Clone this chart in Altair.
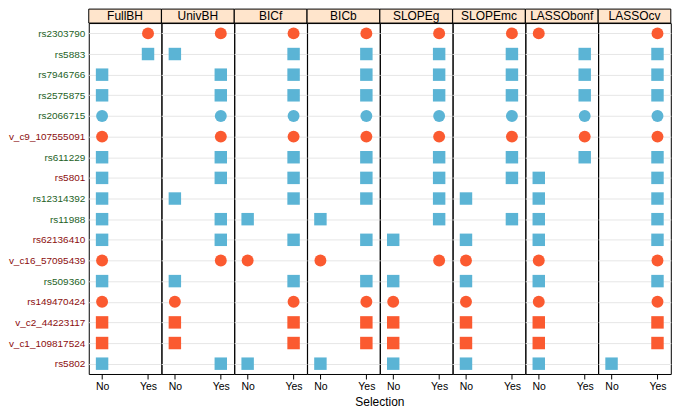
import altair as alt
import pandas as pd

methods = ["FullBH", "UnivBH", "BICf", "BICb", "SLOPEg", "SLOPEmc", "LASSObonf", "LASSOcv"]

snps = ["rs2303790", "rs5883", "rs7946766", "rs2575875", "rs2066715",
        "v_c9_107555091", "rs611229", "rs5801", "rs12314392", "rs11988",
        "rs62136410", "v_c16_57095439", "rs509360", "rs149470424",
        "v_c2_44223117", "v_c1_109817524", "rs5802"]

snp_shape = ["circle", "square", "square", "square", "circle",
             "circle", "square", "square", "square", "square",
             "square", "circle", "square", "circle",
             "square", "square", "square"]

snp_group = ["orange", "blue", "blue", "blue", "blue",
             "orange", "blue", "blue", "blue", "blue",
             "blue", "orange", "blue", "orange",
             "orange", "orange", "blue"]

red_labels = ["v_c9_107555091", "rs5801", "rs62136410", "v_c16_57095439",
              "rs149470424", "v_c2_44223117", "v_c1_109817524", "rs5802"]

Y, N = "Yes", "No"
selection = {
    "FullBH":    [Y, Y, N, N, N, N, N, N, N, N, N, N, N, N, N, N, N],
    "UnivBH":    [Y, N, Y, Y, Y, Y, Y, Y, N, Y, Y, Y, N, N, N, N, Y],
    "BICf":      [Y, Y, Y, Y, Y, Y, Y, Y, Y, N, Y, N, Y, Y, Y, Y, N],
    "BICb":      [Y, Y, Y, Y, Y, Y, Y, Y, Y, N, Y, N, Y, Y, Y, Y, N],
    "SLOPEg":    [Y, Y, Y, Y, Y, Y, Y, Y, Y, Y, N, Y, N, N, N, N, N],
    "SLOPEmc":   [Y, Y, Y, Y, Y, Y, Y, Y, N, Y, N, N, N, N, N, N, N],
    "LASSObonf": [N, Y, Y, Y, Y, Y, Y, N, N, N, N, N, N, N, N, N, N],
    "LASSOcv":   [Y, Y, Y, Y, Y, Y, Y, Y, Y, Y, Y, Y, Y, Y, Y, Y, N],
}

ORANGE = "#FB5A30"
BLUE = "#5BB4D5"
STRIP = "#FFE5CC"
GREEN_LAB = "#245F26"
RED_LAB = "#8B0E0E"
FONT = "Liberation Sans"
PANEL_W = 72.8
PANEL_H = 352

rows = []
for m in methods:
    for i, s in enumerate(snps):
        rows.append({"method": m, "snp": s, "selection": selection[m][i],
                     "shape": snp_shape[i], "grp": snp_group[i]})
df = pd.DataFrame(rows)

red_test = "indexof(" + str(red_labels).replace("'", '"') + ", datum.value) >= 0"

x_enc = alt.X("selection:N",
              scale=alt.Scale(type="point", domain=["No", "Yes"], padding=0.29),
              axis=alt.Axis(title=None, domain=False, ticks=True, tickSize=5,
                            tickColor="black", labelColor="black", labelFontSize=10.5,
                            labelPadding=3, labelAngle=0, grid=False))
y_enc = alt.Y("snp:N",
              scale=alt.Scale(type="point", domain=snps, padding=0.5),
              axis=alt.Axis(title=None, domain=False, ticks=False, labelPadding=4,
                            labelFontSize=10, grid=True, gridColor="#E6E6E6",
                            labelColor={"condition": {"test": red_test, "value": RED_LAB},
                                        "value": GREEN_LAB}))
c_enc = alt.Color("grp:N", scale=alt.Scale(domain=["orange", "blue"], range=[ORANGE, BLUE]),
                  legend=None)

base = alt.Chart()

circles = base.mark_point(filled=True, shape="circle", size=143, opacity=1).encode(
    x=x_enc, y=y_enc, color=c_enc
).transform_filter("datum.shape == 'circle'")

squares = base.mark_point(filled=True, shape="square", size=156, opacity=1).encode(
    x=x_enc, y=y_enc, color=c_enc
).transform_filter("datum.shape == 'square'")

strip = base.mark_rect(fill=STRIP, stroke="black", strokeWidth=1).encode(
    x=alt.value(0), x2=alt.value("width"), y=alt.value(-14), y2=alt.value(0)
).transform_filter("datum.snp == '" + snps[0] + "'")

strip_text = base.mark_text(fontSize=12, color="black", baseline="middle", align="center",
                            font=FONT).encode(
    x=alt.value(PANEL_W / 2), y=alt.value(-7), text="method:N"
).transform_filter("datum.snp == '" + snps[0] + "'")

layered = alt.layer(strip, strip_text, circles, squares).properties(
    width=PANEL_W, height=PANEL_H)

chart = layered.facet(
    data=df,
    column=alt.Column("method:N", sort=methods, title="Selection",
                      header=alt.Header(labels=False, labelPadding=0, titleOrient="bottom",
                                        titleFontSize=12, titleFontWeight="normal",
                                        titleColor="black", titleFont=FONT,
                                        titlePadding=-6)),
    spacing=0,
    bounds="flush",
).properties(
    padding={"left": 0, "top": -0.5, "right": 0, "bottom": 0}
).configure(
    font=FONT
).configure_view(
    stroke="black", strokeWidth=1
).configure_axis(
    labelFont=FONT, titleFont=FONT
)

chart.save("out.html", embed_options={"renderer": "svg", "actions": False})
